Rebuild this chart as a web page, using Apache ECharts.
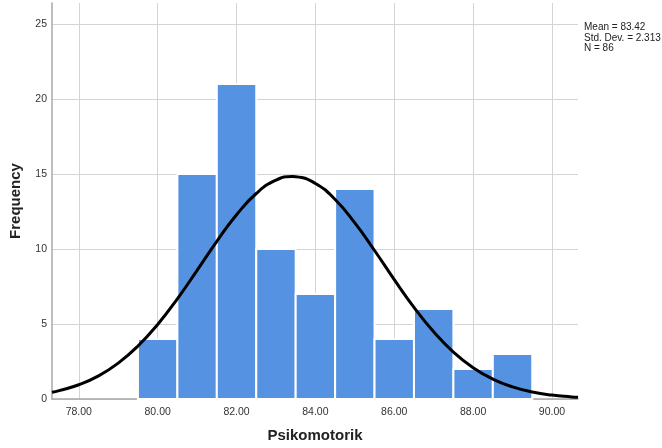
<!DOCTYPE html>
<html>
<head>
<meta charset="utf-8">
<script src="https://cdn.jsdelivr.net/npm/echarts@6/dist/echarts.min.js"></script>
<style>
html, body { margin: 0; padding: 0; background: #fff; }
#chart { width: 662px; height: 448px; }
</style>
</head>
<body>
<div id="chart"></div>
<script>
// histogram bins (centre of bin, width 1)
var binCenters = [80, 81, 82, 83, 84, 85, 86, 87, 88, 89];
var binCounts = [4, 15, 21, 10, 7, 14, 4, 6, 2, 3];

// normal curve, values
var curveX = [77.32, 77.5, 78, 78.5, 79, 79.5, 80, 80.5, 81, 81.5, 82, 82.5, 83, 83.42, 83.5, 84, 84.5, 85, 85.5, 86, 86.5, 87, 87.5, 88, 88.5, 89, 89.5, 90, 90.5, 90.66];
var curveY = [0.45, 0.56, 0.95, 1.54, 2.39, 3.53, 4.97, 6.68, 8.58, 10.51, 12.28, 13.70, 14.59, 14.83, 14.82, 14.37, 13.30, 11.74, 9.90, 7.96, 6.11, 4.48, 3.13, 2.09, 1.33, 0.81, 0.47, 0.26, 0.14, 0.11];

var xGridValues = [78, 80, 82, 84, 86, 88, 90];
var statsLines = ['Mean = 83.42', 'Std. Dev. = 2.313', 'N = 86'];

var fontFam = '"Liberation Sans", Arial, sans-serif';
var gridColor = '#d4d4d4';
var axisColor = '#a8a8a8';

var myChart = echarts.init(document.getElementById('chart'));

var barData = [];
for (var i = 0; i < binCenters.length; i++) {
	barData.push([binCenters[i], binCounts[i]]);
}
var lineData = [];
for (var j = 0; j < curveX.length; j++) {
	lineData.push([curveX[j], curveY[j]]);
}

var option = {
	animation: false,
	backgroundColor: '#ffffff',
	title: {
		text: statsLines.join('\n'),
		left: 579,
		top: 17,
		textStyle: {
			fontFamily: fontFam,
			fontSize: 10,
			fontWeight: 'normal',
			lineHeight: 10.5,
			color: '#222'
		}
	},
	grid: {
		left: 51,
		right: 84,
		top: 3,
		bottom: 46.5
	},
	xAxis: {
		type: 'value',
		min: 77.32,
		max: 90.66,
		splitNumber: 7,
		name: 'Psikomotorik',
		nameLocation: 'middle',
		nameGap: 29,
		nameTextStyle: {
			fontFamily: fontFam,
			fontSize: 15,
			fontWeight: 'bold',
			color: '#222'
		},
		axisLine: { show: true, lineStyle: { color: axisColor, width: 1.5 } },
		axisTick: { show: false },
		splitLine: { show: false },
		axisLabel: {
			showMinLabel: false,
			showMaxLabel: false,
			margin: 8,
			fontFamily: fontFam,
			fontSize: 10.5,
			color: '#333',
			formatter: function(v) { return v.toFixed(2); }
		}
	},
	yAxis: {
		type: 'value',
		min: 0,
		max: 26.4,
		interval: 5,
		name: 'Frequency',
		nameLocation: 'middle',
		nameGap: 29,
		nameTextStyle: {
			fontFamily: fontFam,
			fontSize: 15,
			fontWeight: 'bold',
			color: '#222'
		},
		axisLine: { show: true, lineStyle: { color: axisColor, width: 1.5 } },
		axisTick: { show: false },
		splitLine: { show: true, showMaxLine: false, lineStyle: { color: gridColor, width: 1 } },
		axisLabel: {
			showMaxLabel: false,
			margin: 5,
			fontFamily: fontFam,
			fontSize: 10.5,
			color: '#333'
		}
	},
	series: [
		{
			// vertical grid lines
			type: 'line',
			data: [],
			silent: true,
			z: 0,
			zlevel: 0,
			markLine: {
				silent: true,
				symbol: 'none',
				z: 0,
				label: { show: false },
				lineStyle: { color: gridColor, width: 1, type: 'solid' },
				data: xGridValues.map(function(v) { return { xAxis: v }; })
			}
		},
		{
			type: 'custom',
			data: barData,
			z: 3,
			renderItem: function(params, api) {
				var c = api.value(0);
				var v = api.value(1);
				var p0 = api.coord([c - 0.5, v]);
				var p1 = api.coord([c + 0.5, 0]);
				return {
					type: 'rect',
					shape: { x: p0[0], y: p0[1], width: p1[0] - p0[0], height: p1[1] - p0[1] },
					style: { fill: '#5593e2', stroke: '#ffffff', lineWidth: 2 }
				};
			}
		},
		{
			type: 'line',
			data: lineData,
			smooth: true,
			symbol: 'none',
			lineStyle: { color: '#000', width: 3 },
			z: 5
		}
	]
};
myChart.setOption(option);
</script>
</body>
</html>
